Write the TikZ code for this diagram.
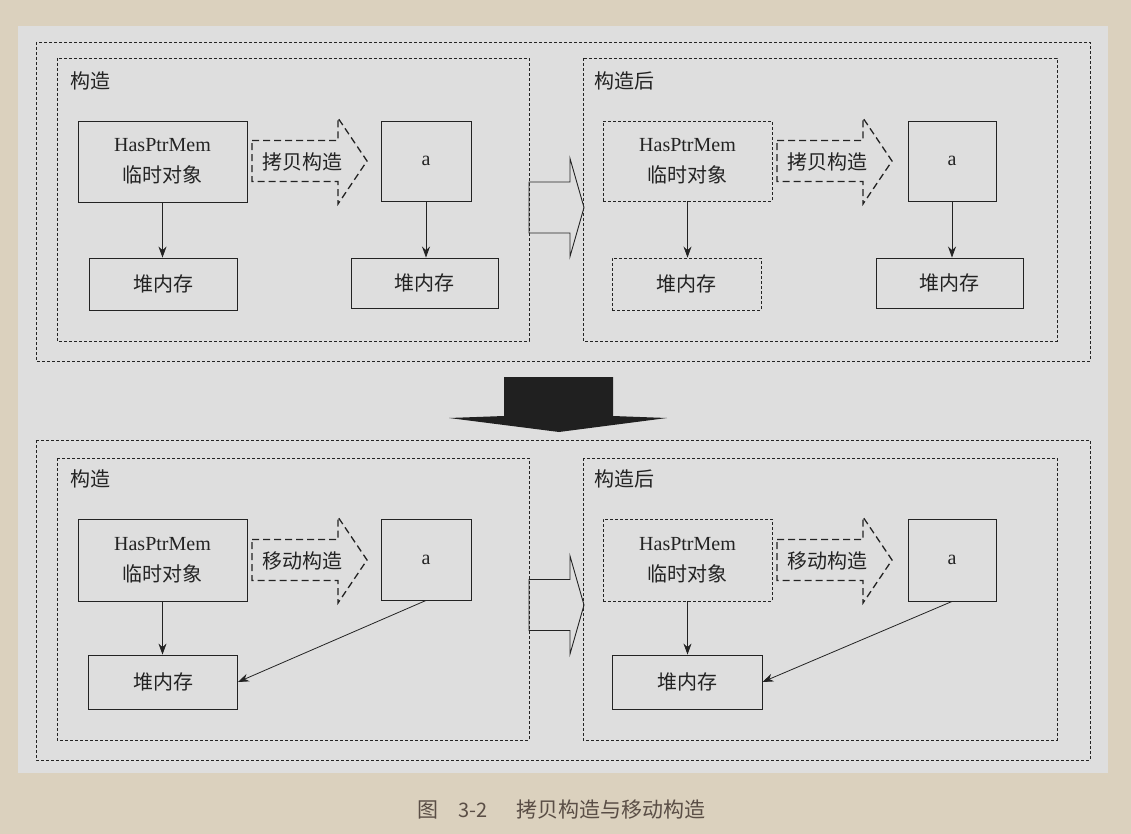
\documentclass[tikz,border=0pt]{standalone}
\usepackage{fontspec}
\setmainfont{Liberation Serif}
\newfontfamily\cjk{Noto Sans CJK SC}
\usetikzlibrary{arrows.meta}
\definecolor{bg}{RGB}{219,209,190}
\definecolor{panel}{RGB}{222,222,222}
\definecolor{ink}{RGB}{35,35,35}
\definecolor{capc}{RGB}{90,78,70}
\begin{document}
\begin{tikzpicture}[x=1pt,y=-1pt,
 box/.style={draw=ink,line width=0.9pt,inner sep=0pt,font=\fontsize{20}{31}\selectfont,text=ink,align=center},
 dbox/.style={box,dash pattern=on 3pt off 2pt},
 frame/.style={draw=ink,line width=0.8pt,dash pattern=on 3pt off 2pt},
 lbl/.style={anchor=west,font=\cjk\fontsize{20}{24}\selectfont,text=ink,inner sep=0pt},
 conn/.style={draw=ink,line width=0.8pt,-{Stealth[length=11pt,width=8pt]}},
 dasharr/.style={draw=ink,line width=1.3pt,dash pattern=on 7pt off 4pt},
 hollow/.style={draw=ink,line width=0.9pt},
 darrow/.pic={\path[dasharr] (0,-20.5) -- (86,-20.5) -- (86,-43) -- (115,0) -- (86,43) -- (86,20.5) -- (0,20.5) -- cycle;},
 harrow/.pic={\path[hollow] (0,-25.5) -- (41,-25.5) -- (41,-49) -- (55,0) -- (41,49) -- (41,25.5) -- (0,25.5) -- cycle;}
]
\fill[bg] (0,0) rectangle (1131,834);
\fill[panel] (18,26) rectangle (1108,773);

% ===== top row =====
\draw[frame] (36,42) rectangle (1090,361);
\draw[frame] (57,58) rectangle (529,341);
\draw[frame] (583,58) rectangle (1057,341);
\node[lbl] (l1) at (70,81) {构造};
\node[lbl] (l2) at (594,81) {构造后};

\node[box,minimum width=169pt,minimum height=81pt] (hp1) at (162.5,161.5) {HasPtrMem\\{\cjk 临时对象}};
\pic at (252,161) {darrow};
\node[lbl,anchor=center] (t1) at (302,162) {拷贝构造};
\node[box,minimum width=90pt,minimum height=80pt] (a1) at (426,161) {a};
\node[box,minimum width=148pt,minimum height=52pt] (heap1) at (163,284) {\cjk 堆内存};
\node[box,minimum width=147pt,minimum height=50pt] (heap2) at (424.5,283) {\cjk 堆内存};
\draw[conn] (hp1.south) -- (hp1.south |- heap1.north);
\draw[conn] (a1.south) -- (a1.south |- heap2.north);

\pic at (529,207.5) {harrow};

\node[dbox,minimum width=169pt,minimum height=80pt] (hp2) at (687.5,161) {HasPtrMem\\{\cjk 临时对象}};
\pic at (777,161) {darrow};
\node[lbl,anchor=center] (t2) at (827,162) {拷贝构造};
\node[box,minimum width=88pt,minimum height=80pt] (a2) at (952,161) {a};
\node[dbox,minimum width=149pt,minimum height=52pt] (heap3) at (686.5,284) {\cjk 堆内存};
\node[box,minimum width=147pt,minimum height=50pt] (heap4) at (949.5,283) {\cjk 堆内存};
\draw[conn] (hp2.south) -- (hp2.south |- heap3.north);
\draw[conn] (a2.south) -- (a2.south |- heap4.north);

% ===== big black arrow =====
\fill[ink!90!black] (504,377) -- (613,377) -- (613,416) -- (667,418) -- (559,432) -- (449,418) -- (504,416) -- cycle;

% ===== bottom row =====
\draw[frame] (36,440) rectangle (1090,760);
\draw[frame] (57,458) rectangle (529,740);
\draw[frame] (583,458) rectangle (1057,740);
\node[lbl] (l3) at (70,479) {构造};
\node[lbl] (l4) at (594,479) {构造后};

\node[box,minimum width=169pt,minimum height=82pt] (hp3) at (162.5,560) {HasPtrMem\\{\cjk 临时对象}};
\pic at (252,560) {darrow};
\node[lbl,anchor=center] (t3) at (302,561) {移动构造};
\node[box,minimum width=90pt,minimum height=81pt] (a3) at (426,559.5) {a};
\node[box,minimum width=149pt,minimum height=54pt] (heap5) at (163,682) {\cjk 堆内存};
\draw[conn] (hp3.south) -- (hp3.south |- heap5.north);
\draw[conn] (a3.south) -- (heap5.east);

\pic at (529,605) {harrow};

\node[dbox,minimum width=169pt,minimum height=82pt] (hp4) at (687.5,560) {HasPtrMem\\{\cjk 临时对象}};
\pic at (777,560) {darrow};
\node[lbl,anchor=center] (t4) at (827,561) {移动构造};
\node[box,minimum width=88pt,minimum height=82pt] (a4) at (952,560) {a};
\node[box,minimum width=150pt,minimum height=54pt] (heap6) at (687,682) {\cjk 堆内存};
\draw[conn] (hp4.south) -- (hp4.south |- heap6.north);
\draw[conn] (a4.south) -- (heap6.east);

% ===== caption =====
\node[anchor=west,inner sep=0pt,text=capc,font=\cjk\fontsize{21}{24}\selectfont] (c1) at (417,810) {图};
\node[anchor=west,inner sep=0pt,text=capc,font=\cjk\fontsize{20}{24}\selectfont] (c2) at (458,810) {3-2};
\node[anchor=west,inner sep=0pt,text=capc,font=\cjk\fontsize{21}{24}\selectfont] (c3) at (516,810) {拷贝构造与移动构造};
\end{tikzpicture}
\end{document}
